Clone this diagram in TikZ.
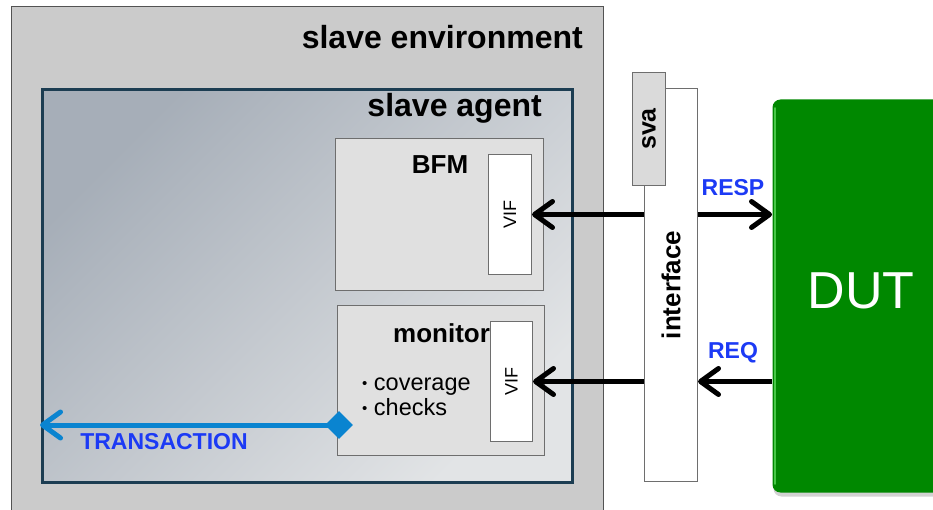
\documentclass[tikz,border=0pt]{standalone}
\usepackage{fontspec}
\setmainfont{Liberation Sans}
\usetikzlibrary{arrows.meta,shapes.geometric,shadows}

\definecolor{envgray}{RGB}{203,203,203}
\definecolor{boxgray}{RGB}{224,224,224}
\definecolor{svagray}{RGB}{218,218,218}
\definecolor{edgegray}{RGB}{110,110,110}
\definecolor{agentedge}{RGB}{28,61,82}
\definecolor{agentdark}{RGB}{166,174,184}
\definecolor{agentlight}{RGB}{226,228,230}
\definecolor{dutgreen}{RGB}{0,136,0}
\definecolor{dutlight}{RGB}{70,200,70}
\definecolor{siglabel}{RGB}{28,58,245}
\definecolor{txblue}{RGB}{10,132,208}

\newcommand{\smallbullet}{{\fontsize{15}{15}\selectfont\raisebox{1.5pt}{\textbullet}}}

\tikzset{
  blk/.style={draw=edgegray, line width=1pt, inner sep=0pt, anchor=north west},
  vifbox/.style={blk, fill=white},
  bigtitle/.style={inner sep=0pt, font=\bfseries\fontsize{32}{36}\selectfont},
  subtitle/.style={inner sep=0pt, font=\bfseries\fontsize{26}{30}\selectfont},
  bullettext/.style={inner sep=0pt, anchor=base west, font=\fontsize{23.5}{26}\selectfont},
  sig/.style={line width=5pt, -{Straight Barb[length=18pt,width=26pt,round]}},
  siglbl/.style={text=siglabel, font=\bfseries\fontsize{23}{26}\selectfont},
}

\begin{document}
\begin{tikzpicture}[x=1pt,y=-1pt]
  \clip (0,0) rectangle (933,510);
  \fill[white] (0,0) rectangle (933,510);

  % environment and agent
  \node[blk, draw=gray!65!black, line width=1.3pt, fill=envgray,
        minimum width=592pt, minimum height=530pt] (env) at (11,6) {};
  \node[bigtitle, anchor=base east] (envtitle) at (583,49) {slave environment};
  \node[blk, draw=agentedge, line width=3pt, top color=agentdark,
        bottom color=agentlight, shading angle=45,
        minimum width=530pt, minimum height=393pt] (agent) at (41,88) {};
  \node[bigtitle, anchor=base east] (agenttitle) at (542,117) {slave agent};

  % BFM
  \node[blk, fill=boxgray, minimum width=208pt, minimum height=152pt] (bfm) at (335,138) {};
  \node[subtitle, anchor=base] (bfmtitle) at (440,174) {BFM};
  \node[vifbox, minimum width=43pt, minimum height=120pt] (bfmvif) at (488,154) {};
  \node[rotate=90, font=\fontsize{18}{20}\selectfont] at (bfmvif.center) {VIF};

  % monitor
  \node[blk, fill=boxgray, minimum width=207pt, minimum height=150pt] (mon) at (337,305) {};
  \node[subtitle, anchor=base west] (montitle) at (393,342) {monitor};
  \node[bullettext] (cov) at (362,390) {\smallbullet\ coverage};
  \node[bullettext] (chk) at (362,415) {\smallbullet\ checks};
  \node[vifbox, minimum width=42pt, minimum height=120pt] (monvif) at (490,321) {};
  \node[rotate=90, font=\fontsize{18}{20}\selectfont] at (monvif.center) {VIF};

  % interface with sva
  \node[vifbox, minimum width=53pt, minimum height=393pt] (iface) at (644,88) {};
  \node[rotate=90, subtitle] at (iface.center) {interface};
  \node[blk, fill=svagray, minimum width=33pt, minimum height=113pt] (sva) at (632,72) {};
  \node[rotate=90, font=\bfseries\fontsize{25}{28}\selectfont] at (sva.center) {sva};

  % DUT
  \node[blk, draw=none, fill=dutgreen, rounded corners=8pt,
        drop shadow={shadow xshift=1pt, shadow yshift=-4pt, opacity=0.35},
        minimum width=180pt, minimum height=393pt] (dut) at (772,99) {};
  \draw[dutlight, line width=1.6pt, line cap=round]
    ([xshift=3pt,yshift=-9pt]dut.north west) -- ([xshift=3pt,yshift=9pt]dut.south west);
  \node[text=white, font=\fontsize{52}{56}\selectfont] (duttext) at (861,291) {DUT};

  % signals
  \draw[sig, {Straight Barb[length=18pt,width=26pt,round]}-] (bfmvif.east) -- (bfmvif.east -| iface.west);
  \draw[sig] (bfmvif.east -| iface.east) -- (bfmvif.east -| dut.west);
  \draw[sig] (monvif.east -| dut.west) -- (monvif.east -| iface.east);
  \draw[sig] (monvif.east -| iface.west) -- (monvif.east);
  \node[siglbl] (resp) at (733,188) {RESP};
  \node[siglbl] (req) at (733,353) {REQ};

  % analysis port
  \coordinate (txend) at (40,425);
  \draw[sig, draw=txblue] (339,425) -- (txend);
  \node[diamond, fill=txblue, inner sep=0pt, minimum width=28pt, minimum height=28pt] (port) at (339,425) {};
  \node[siglbl] (txlbl) at (164,442) {TRANSACTION};
\end{tikzpicture}
\end{document}
